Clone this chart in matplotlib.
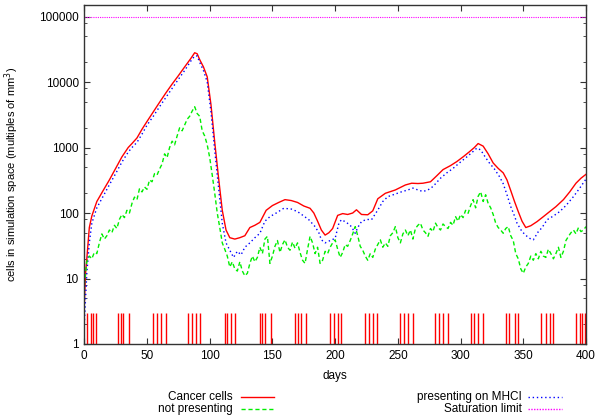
import numpy as np
import matplotlib
matplotlib.use('Agg')
import matplotlib.pyplot as plt
from matplotlib.lines import Line2D
from matplotlib.ticker import FixedLocator, LogLocator, NullFormatter

plt.rcParams['font.family'] = ['Liberation Sans', 'DejaVu Sans']
plt.rcParams['font.size'] = 8.5

# CANCER CELLS (red)
red_days = [0, 1, 2, 4, 6, 10, 15, 20, 25, 30, 35, 38, 42, 46, 50, 55, 60, 65, 70, 75,
            80, 85, 88, 90, 92, 95, 98, 101, 104, 107, 110, 113, 116, 120, 124, 128, 132,
            136, 140, 145, 150, 155, 160, 165, 170, 175, 180, 183, 186, 189, 192, 195, 198,
            202, 206, 210, 214, 217, 221, 226, 230, 234, 240, 248, 256, 261, 266, 270, 276,
            281, 286, 292, 297, 302, 307, 311, 314, 318, 322, 326, 330, 334, 337, 340, 343,
            346, 349, 352, 356, 361, 366, 371, 376, 382, 387, 392, 396, 400]
red_vals = [4, 12, 20, 60, 90, 150, 220, 320, 480, 720, 1000, 1150, 1400, 1900, 2500, 3500,
            4900, 6800, 9300, 12500, 17000, 23000, 28000, 27000, 22000, 17000, 12000, 4500,
            1200, 350, 110, 55, 42, 40, 42, 45, 60, 65, 72, 110, 130, 145, 160, 155, 145, 128,
            118, 100, 75, 55, 46, 50, 58, 92, 98, 95, 100, 112, 95, 94, 108, 165, 200, 225,
            268, 285, 282, 285, 300, 370, 460, 530, 610, 720, 860, 1000, 1150, 1050, 800, 580,
            480, 410, 320, 220, 150, 105, 75, 60, 64, 74, 88, 105, 125, 160, 210, 285, 340, 390]

# PRESENTING ON MHCI (blue)
blue_days = [0, 1, 2, 4, 6, 10, 15, 20, 25, 30, 35, 38, 42, 46, 50, 55, 60, 65, 70, 75, 80,
             85, 88, 90, 92, 95, 98, 101, 104, 107, 110, 113, 116, 119, 122, 125, 128, 132,
             136, 140, 144, 148, 153, 159, 165, 170, 175, 179, 184, 187, 189, 192, 196, 200,
             203, 205, 209, 213, 216, 218, 221, 225, 229, 234, 238, 242, 248, 253, 258, 262,
             266, 270, 274, 278, 284, 289, 294, 299, 305, 310, 313, 316, 320, 323, 327, 331,
             334, 337, 340, 343, 345, 349, 353, 356, 358, 360, 362, 365, 369, 374, 379, 384,
             390, 395, 400]
blue_vals = [2, 5, 12, 35, 70, 120, 180, 270, 400, 600, 850, 1000, 1200, 1600, 2200, 3000,
             4200, 5800, 8000, 11000, 15000, 21000, 25000, 25000, 20000, 15000, 10000, 3500,
             900, 250, 70, 35, 27, 21, 26, 23, 30, 35, 42, 49, 75, 88, 100, 118, 115, 105, 90,
             79, 62, 50, 39, 35, 38, 41, 70, 79, 72, 62, 49, 60, 74, 80, 79, 111, 150, 178,
             195, 211, 225, 240, 225, 213, 225, 254, 340, 410, 480, 580, 720, 870, 980, 920,
             700, 580, 470, 360, 280, 190, 125, 90, 70, 52, 44, 40, 39, 45, 52, 60, 79, 90,
             105, 130, 178, 240, 330]

# NOT PRESENTING (green), every 2 days
green_days = np.arange(0, 401, 2)
green_vals = [8, 18, 22, 20, 25, 24, 35, 48, 40, 45, 55, 50, 65, 58, 80, 95, 85, 110, 100,
              140, 175, 160, 235, 210, 250, 230, 320, 300, 400, 380, 470, 560, 800, 700, 1000,
              1250, 1100, 1500, 2000, 1800, 2200, 2700, 3000, 3600, 4200, 3300, 3000, 1800,
              1500, 1100, 700, 380, 200, 100, 60, 35, 28, 22, 15, 18, 14, 13, 18, 13, 11, 12,
              17, 22, 18, 21, 30, 24, 40, 44, 17, 22, 31, 38, 25, 33, 39, 30, 27, 36, 29, 35,
              25, 19, 17, 28, 44, 35, 24, 30, 17, 19, 26, 24, 30, 35, 39, 28, 21, 25, 33, 31,
              38, 48, 62, 45, 31, 27, 22, 19, 24, 21, 28, 33, 39, 30, 35, 31, 45, 50, 62, 42,
              35, 48, 55, 45, 55, 40, 58, 65, 70, 55, 50, 44, 58, 52, 70, 60, 55, 68, 62, 58,
              72, 65, 88, 75, 95, 85, 110, 99, 130, 160, 120, 180, 211, 150, 190, 140, 120, 95,
              70, 60, 55, 49, 58, 62, 45, 38, 24, 20, 14, 12, 15, 17, 22, 19, 24, 20, 26, 22,
              21, 28, 24, 20, 24, 30, 21, 26, 38, 44, 50, 55, 48, 60, 52, 55, 62]

# treatment days (impulses at the bottom)
dose_days = [2, 5, 7, 9, 27, 29, 31, 36, 55, 58, 61, 65, 83, 86, 89, 92, 112, 114, 117, 120,
             140, 142, 144, 149, 168, 170, 173, 177, 196, 199, 202, 205, 224, 227, 230, 233,
             252, 255, 258, 262, 280, 283, 286, 290, 308, 311, 314, 318, 336, 339, 343, 346,
             364, 368, 371, 374, 392, 395, 397, 399]
dose_height = 3
saturation = 100000

ytick_vals = [1, 10, 100, 1000, 10000, 100000]
ytick_labels = ['1', '10', '100', '1000', '10000', '100000']
xtick_vals = [0, 50, 100, 150, 200, 250, 300, 350, 400]

W, H = 596, 418
fig = plt.figure(figsize=(W / 100, H / 100), dpi=100)
ax = fig.add_axes([84.3 / W, 1 - 344 / H, (586 - 84.3) / W, (344 - 5) / H])

ax.vlines(dose_days, 1, dose_height, color='#ff0000', lw=1)
ax.plot(red_days, red_vals, color='#ff0000', lw=1)
ax.plot(blue_days, blue_vals, color='#0000ff', lw=1, dashes=(1, 2))
ax.plot(green_days, green_vals, color='#00ee00', lw=1, dashes=(3, 2))
ax.axhline(saturation, color='#ff00ff', lw=0.8, dashes=(1, 1))

ax.set_yscale('log')
ax.set_xlim(0, 400)
ax.set_ylim(1, 150000)
ax.yaxis.set_major_locator(FixedLocator(ytick_vals))
ax.set_yticklabels(ytick_labels)
ax.yaxis.set_minor_locator(LogLocator(base=10, subs=[2, 5, 8]))
ax.yaxis.set_minor_formatter(NullFormatter())
ax.set_xticks(xtick_vals)
ax.tick_params(which='both', direction='in', top=True, right=True, colors='#333333',
               labelcolor='black')
ax.tick_params(which='major', length=4, pad=4)
ax.tick_params(which='minor', length=2.2)
for s in ax.spines.values():
    s.set_color('#333333')
    s.set_linewidth(1)

ax.set_xlabel('days', labelpad=6)
ax.set_ylabel('cells in simulation space (multiples of mm$^3$)', fontsize=8)
ax.yaxis.set_label_coords(-0.127, 0.5)

# gnuplot-like key below the plot
def key_entry(tx, ty, lx0, lx1, label, color, dashes):
    fig.text(tx / W, 1 - ty / H, label, ha='right', va='center')
    ln = Line2D([lx0 / W, lx1 / W], [1 - ty / H, 1 - ty / H], transform=fig.transFigure,
                color=color, lw=1)
    if dashes:
        ln.set_dashes(dashes)
    fig.add_artist(ln)

key_entry(233, 397, 241, 274, 'Cancer cells', '#ff0000', None)
key_entry(233, 409, 241, 274, 'not presenting', '#00ee00', (3, 2))
key_entry(522, 397, 528, 562, 'presenting on MHCI', '#0000ff', (1, 2))
key_entry(522, 409, 528, 562, 'Saturation limit', '#ff00ff', (1, 1))

fig.savefig('out.png', dpi=100)
